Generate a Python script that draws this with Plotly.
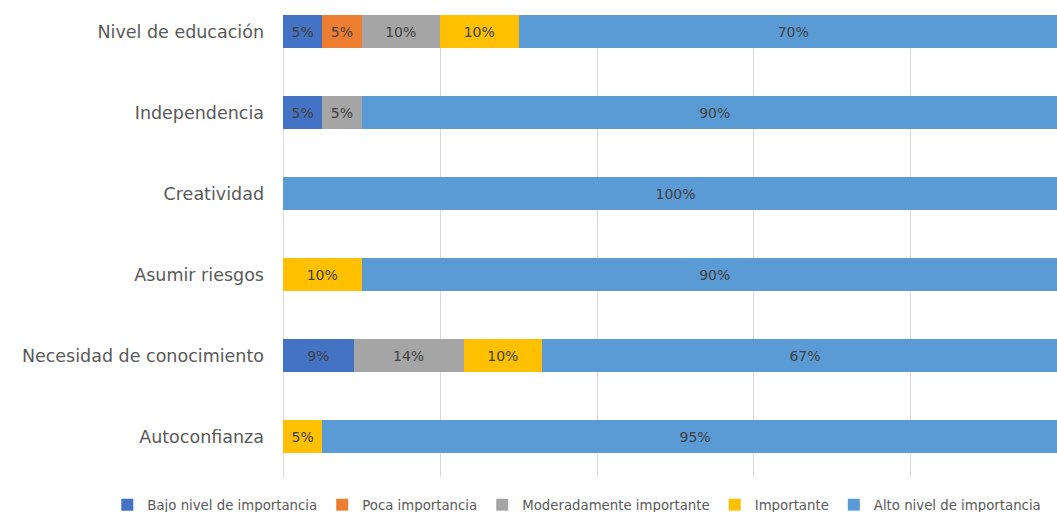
import plotly.graph_objects as go

categories = ["Nivel de educación", "Independencia", "Creatividad",
              "Asumir riesgos", "Necesidad de conocimiento", "Autoconfianza"]
series_names = ["Bajo nivel de importancia", "Poca importancia",
                "Moderadamente importante", "Importante", "Alto nivel de importancia"]
bajo = [5, 5, 0, 0, 9, 0]
poca = [5, 0, 0, 0, 0, 0]
moderada = [10, 5, 0, 0, 14, 0]
importante = [10, 0, 0, 10, 10, 5]
alto = [70, 90, 100, 90, 67, 95]

colors = ["#4472C4", "#ED7D31", "#A5A5A5", "#FFC000", "#5B9BD5"]
FONT = "DejaVu Sans"

fig = go.Figure()
for name, vals, col in zip(series_names, [bajo, poca, moderada, importante, alto], colors):
    fig.add_trace(go.Bar(
        y=categories,
        x=[v / 100 for v in vals],
        name=name,
        orientation="h",
        marker=dict(color=col, line=dict(width=0)),
        width=0.41,
        text=[f"{v}%" if v > 0 else "" for v in vals],
        textposition="inside",
        insidetextanchor="middle",
        textangle=0,
        constraintext="none",
        textfont=dict(family=FONT, size=14, color="#404040"),
    ))

fig.update_layout(
    width=1057, height=512,
    barmode="stack",
    plot_bgcolor="white", paper_bgcolor="white",
    margin=dict(l=283, r=0, t=15, b=35, autoexpand=False),
    font=dict(family=FONT, color="#595959"),
    legend=dict(
        orientation="h", traceorder="normal",
        x=-0.227, xanchor="left", y=-0.0606, yanchor="middle",
        font=dict(family=FONT, size=13.3, color="#595959"),
        itemwidth=30, tracegroupgap=0,
    ),
    xaxis=dict(
        range=[0, 0.986], dtick=0.2, showgrid=True, gridcolor="#d9d9d9", gridwidth=1,
        zeroline=True, zerolinecolor="#d9d9d9", zerolinewidth=1,
        showticklabels=False, showline=False, fixedrange=True,
    ),
    yaxis=dict(
        categoryorder="array", categoryarray=categories,
        range=[5.5, -0.205], showgrid=False, zeroline=False, showline=False,
        tickfont=dict(family=FONT, size=17.5, color="#595959"),
        ticklabelstandoff=18,
    ),
)

fig.write_html("out.html")
